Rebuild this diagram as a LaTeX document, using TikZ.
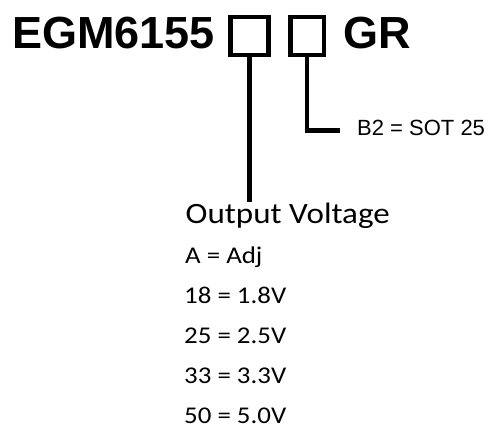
\documentclass[tikz,border=0pt]{standalone}
\usepackage{fontspec}
\setmainfont{Liberation Sans}
\newfontfamily\voltfont[FakeStretch=1.12]{Carlito}
\usetikzlibrary{positioning}
\tikzset{
    partno/.style   ={anchor=base west, inner sep=0pt, font=\fontsize{45}{50}\selectfont\bfseries},
    codebox/.style  ={rectangle, draw=black, line width=4.5pt, minimum height=38pt, inner sep=0pt, outer sep=0pt},
    leader/.style   ={line width=4.5pt},
    optlabel/.style ={anchor=base west, inner sep=0pt, font=\fontsize{22}{26}\selectfont},
    headlabel/.style={anchor=base west, inner sep=0pt, font=\voltfont\fontsize{29.5}{34}\selectfont},
    listitem/.style ={anchor=base west, inner sep=0pt, font=\voltfont\fontsize{24}{28}\selectfont},
}

\begin{document}
\begin{tikzpicture}[x=1pt, y=-1pt]
        \useasboundingbox (0,0) rectangle (491,428);
        % part number
        \node[partno] (part) at (12,49) {EGM6155};
        \node[codebox, minimum width=38pt] (box1) at (249.5,36) {};
        \node[codebox, minimum width=33.5pt] (box2) at (307,36) {};
        \node[partno] (suffix) at (343,49) {GR};
        % package option
        \node[optlabel] (pkg) at (357,136) {B2 = SOT 25};
        \coordinate (pkgtip) at (340,130.5);
        % voltage options
        \node[headlabel] (volt) at (185.5,223) {Output Voltage};
        \node[listitem] (adj) at (185,263) {A = Adj};
        \node[listitem] (v18) at (184,303) {18 = 1.8V};
        \node[listitem] (v25) at (184,343) {25 = 2.5V};
        \node[listitem] (v33) at (184,383) {33 = 3.3V};
        \node[listitem] (v50) at (184,423) {50 = 5.0V};

        % leaders
        \draw[leader] (box1.south) -- (box1.south |- volt.north);
        \draw[leader] (box2.south) |- (pkgtip);
    \end{tikzpicture}
\end{document}
